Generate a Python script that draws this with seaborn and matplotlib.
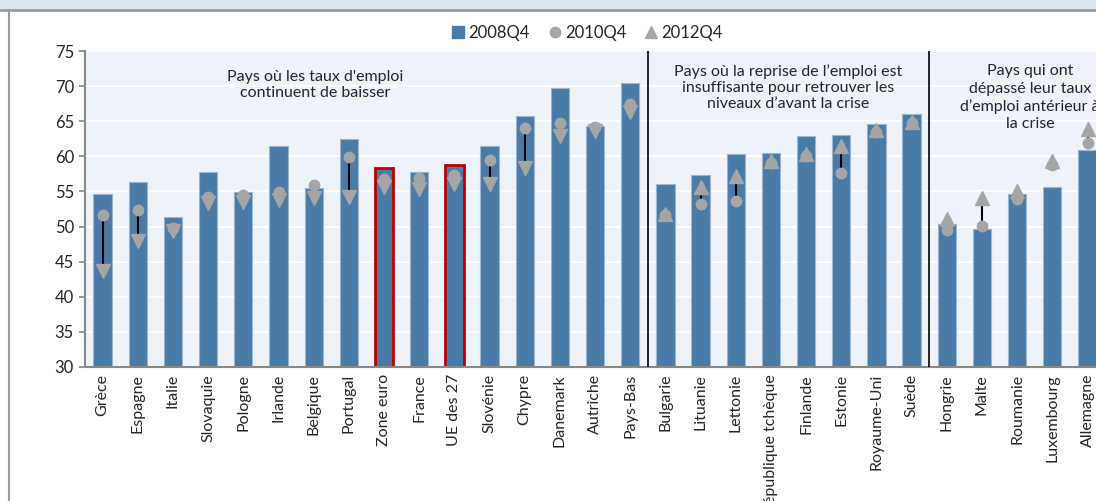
import numpy as np
import matplotlib
matplotlib.use("Agg")
import matplotlib.pyplot as plt
from matplotlib.lines import Line2D
from matplotlib.patches import Rectangle
import seaborn as sns

# ---- data ----
countries = ["Grèce", "Espagne", "Italie", "Slovaquie", "Pologne", "Irlande", "Belgique",
             "Portugal", "Zone euro", "France", "UE des 27", "Slovénie", "Chypre", "Danemark",
             "Autriche", "Pays-Bas", "Bulgarie", "Lituanie", "Lettonie", "République tchèque",
             "Finlande", "Estonie", "Royaume-Uni", "Suède", "Hongrie", "Malte", "Roumanie",
             "Luxembourg", "Allemagne"]
rate_2008q4 = [54.6, 56.4, 51.3, 57.7, 54.9, 61.4, 55.5, 62.5, 58.3, 57.7, 58.7, 61.5, 65.7, 69.7,
               64.3, 70.4, 56.1, 57.3, 60.4, 60.5, 62.9, 63.0, 64.6, 66.0, 50.4, 49.6, 54.6, 55.6, 60.9]
rate_2010q4 = [51.6, 52.4, 49.8, 54.2, 54.5, 54.9, 55.9, 59.9, 56.8, 56.9, 57.3, 59.5, 64.1, 64.8,
               64.2, 67.4, 51.7, 53.2, 53.6, 59.0, 60.0, 57.6, 63.5, 64.7, 49.5, 50.1, 53.9, 58.7, 61.9]
rate_2012q4 = [43.7, 47.9, 49.3, 53.4, 53.5, 53.8, 54.1, 54.2, 55.7, 55.4, 56.1, 56.1, 58.3, 62.9,
               63.6, 66.3, 51.8, 55.7, 57.2, 59.3, 60.4, 61.4, 63.8, 64.9, 51.1, 54.1, 55.1, 59.3, 63.9]
highlighted = ["Zone euro", "UE des 27"]
group_ends = ["Pays-Bas", "Suède"]  # separators drawn after these
group_titles = ["Pays où les taux d'emploi\ncontinuent de baisser",
                "Pays où la reprise de l’emploi est\ninsuffisante pour retrouver les\nniveaux d’avant la crise",
                "Pays qui ont\ndépassé leur taux\nd’emploi antérieur à\nla crise"]
title_anchor = ["Irlande", "République tchèque", "Roumanie"]

bar_color = "#4A7BA7"
mark_color = "#A5A5A5"

sns.set_theme(style="white")
plt.rcParams["font.family"] = ["Lato", "DejaVu Sans"]

fig = plt.figure(figsize=(10.96, 5.01), dpi=100)
ax = fig.add_axes([0.0776, 0.2675, 0.9307, 0.6307])
ax.set_facecolor("#EEF2FA")

sns.barplot(x=countries, y=rate_2008q4, color=bar_color, saturation=1, width=0.52,
            edgecolor="#9CB5D1", linewidth=0.8, ax=ax, zorder=2)
for patch, name in zip(ax.patches, countries):
    if name in highlighted:
        patch.set_edgecolor("#C00000")
        patch.set_linewidth(2)

pos = np.arange(len(countries))
r10 = np.array(rate_2010q4)
r12 = np.array(rate_2012q4)
ax.vlines(pos, r10, r12, color="black", lw=1.5, zorder=3)
ax.plot(pos, r10, "o", color=mark_color, ms=7.5, ls="none", zorder=4)
up = r12 >= r10
ax.plot(pos[up], r12[up], "^", color=mark_color, ms=10, ls="none", zorder=5)
ax.plot(pos[~up], r12[~up], "v", color=mark_color, ms=10, ls="none", zorder=5)

# group separators and titles
for name in group_ends:
    ax.axvline(countries.index(name) + 0.5, color="black", lw=1.2, zorder=3)
offsets = [1.05, 0.5, 0.37]
tops = [72.3, 73.1, 73.1]
spacing = [1.15, 1.15, 1.3]
for txt, name, dx, yt, ls in zip(group_titles, title_anchor, offsets, tops, spacing):
    ax.text(countries.index(name) + dx, yt, txt,
            ha="center", va="top", fontsize=11.5, linespacing=ls, zorder=6)

ax.set_ylim(30, 75)
ax.set_xlim(-0.5, len(countries) - 0.5)
ax.set_yticks(range(30, 80, 5))
ax.yaxis.grid(True, color="white", lw=1.3)
ax.set_axisbelow(True)
ax.set_xticks(pos)
ax.set_xticklabels(countries, rotation=90, fontsize=11.5)
ax.set_xticks(np.arange(-0.5, len(countries), 1), minor=True)
ax.tick_params(axis="x", which="major", length=0, pad=5)
ax.tick_params(axis="x", which="minor", length=4, color="#888888", direction="out")
ax.tick_params(axis="y", length=4, color="#888888", direction="out", labelsize=12, pad=4)
ax.tick_params(axis="y", which="major", left=True)
for s in ["top", "right"]:
    ax.spines[s].set_visible(False)
for s in ["left", "bottom"]:
    ax.spines[s].set_color("#888888")
    ax.spines[s].set_linewidth(1.5)

handles = [Line2D([], [], marker="s", color=bar_color, ls="none", ms=8),
           Line2D([], [], marker="o", color=mark_color, ls="none", ms=7.5),
           Line2D([], [], marker="^", color=mark_color, ls="none", ms=8)]
fig.legend(handles, ["2008Q4", "2010Q4", "2012Q4"], loc="center", bbox_to_anchor=(0.535, 0.934),
           ncol=3, frameon=False, fontsize=12, handletextpad=0.1, columnspacing=1.0,
           handlelength=1.0)

# screenshot frame: top band and left border
fig.add_artist(Rectangle((0, 1 - 9 / 501), 1, 9 / 501, transform=fig.transFigure,
                         facecolor="#DCE6F2", edgecolor="none"))
fig.add_artist(Line2D([0, 1], [1 - 10 / 501] * 2, transform=fig.transFigure, color="#9A9A9A", lw=2))
fig.add_artist(Line2D([8.5 / 1096] * 2, [0, 1 - 10 / 501], transform=fig.transFigure,
                      color="#9A9A9A", lw=1.5))

fig.savefig("out.png", dpi=100)
